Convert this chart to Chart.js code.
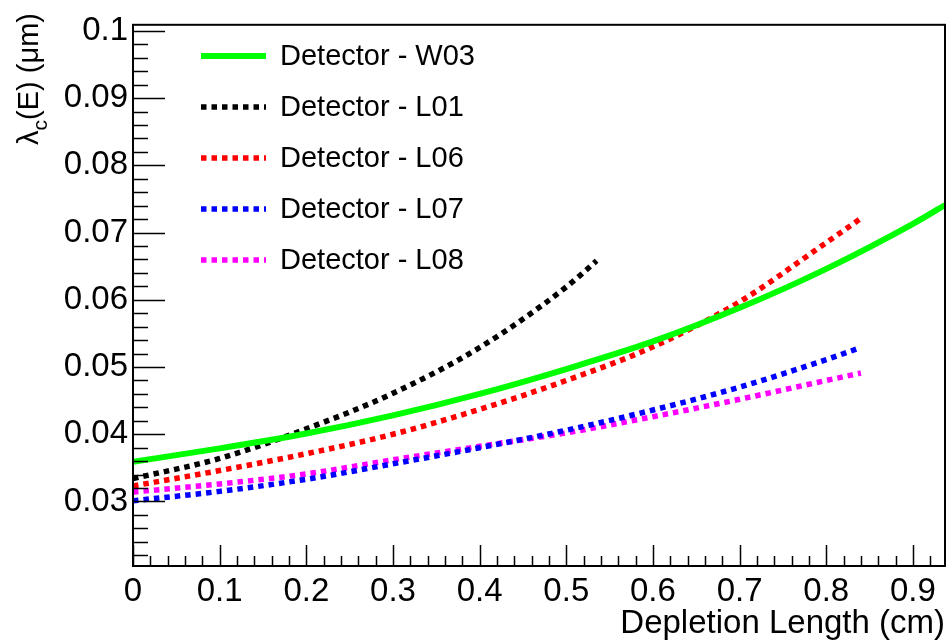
<!DOCTYPE html>
<html>
<head>
<meta charset="utf-8">
<script src="https://cdn.jsdelivr.net/npm/chart.js@4.4.0/dist/chart.umd.min.js"></script>
<style>
  html, body { margin: 0; padding: 0; background: #fff; }
  #wrap { width: 950px; height: 644px; }
</style>
</head>
<body>
<div id="wrap"><canvas id="lambdaChart" width="950" height="644"></canvas></div>
<script>
// depletion length (cm) sample points
const xW03 = [0, 0.1, 0.2, 0.3, 0.4, 0.5, 0.6, 0.7, 0.8, 0.9, 0.937];
const xL01 = [0, 0.1, 0.2, 0.3, 0.4, 0.5, 0.535];
const xL0x = [0, 0.1, 0.2, 0.3, 0.4, 0.5, 0.6, 0.7, 0.8, 0.84];

// lambda_c(E) in um
const W03 = [0.0359, 0.0379, 0.0401, 0.0428, 0.0460, 0.0497, 0.0538, 0.0588, 0.0646, 0.0713, 0.0741];
const L01 = [0.0334, 0.0364, 0.0408, 0.0461, 0.0529, 0.0619, 0.0658];
const L06 = [0.0323, 0.0346, 0.0371, 0.0400, 0.0437, 0.0480, 0.0530, 0.0597, 0.0685, 0.0721];
const L07 = [0.0301, 0.0315, 0.0333, 0.0356, 0.0380, 0.0406, 0.0436, 0.0470, 0.0511, 0.0529];
const L08 = [0.0314, 0.0326, 0.0341, 0.0362, 0.0382, 0.0402, 0.0426, 0.0452, 0.0480, 0.0491];

const seriesNames = ["Detector - W03", "Detector - L01", "Detector - L06", "Detector - L07", "Detector - L08"];
const xTickLabels = ["0", "0.1", "0.2", "0.3", "0.4", "0.5", "0.6", "0.7", "0.8", "0.9"];
const yTickLabels = ["0.03", "0.04", "0.05", "0.06", "0.07", "0.08", "0.09", "0.1"];

const FONT = "'Liberation Sans', Arial, Helvetica, sans-serif";

function toPoints(xs, ys) {
  return xs.map((x, i) => ({ x: x, y: ys[i] }));
}

function makeSet(label, xs, ys, color, dotted) {
  return {
    label: label,
    data: toPoints(xs, ys),
    borderColor: color,
    backgroundColor: color,
    borderWidth: dotted ? 5.5 : 6,
    borderDash: dotted ? [5.5, 5] : [],
    borderCapStyle: "butt",
    pointRadius: 0,
    fill: false,
    cubicInterpolationMode: "monotone",
  };
}

const datasets = [
  makeSet(seriesNames[0], xW03, W03, "#00ff00", false),
  makeSet(seriesNames[1], xL01, L01, "#000000", true),
  makeSet(seriesNames[2], xL0x, L06, "#ff0000", true),
  makeSet(seriesNames[3], xL0x, L07, "#0000ff", true),
  makeSet(seriesNames[4], xL0x, L08, "#ff00ff", true),
];

// ROOT-like frame, inward ticks, legend and y title
const rootFrame = {
  id: "rootFrame",
  afterDraw(chart) {
    const ctx = chart.ctx;
    const a = chart.chartArea;
    const xs = chart.scales.x;
    const ys = chart.scales.y;
    ctx.save();

    ctx.strokeStyle = "#000";
    ctx.lineWidth = 1.5;
    ctx.beginPath();
    for (let i = 0; i <= 50; i++) {
      const v = i * 0.02;
      if (v > xs.max + 1e-9) break;
      const px = Math.round(xs.getPixelForValue(v)) + 0.5;
      const len = i % 5 === 0 ? 21 : 10;
      ctx.moveTo(px, a.bottom);
      ctx.lineTo(px, a.bottom - len);
    }
    for (let i = 0; i <= 60; i++) {
      const v = i * 0.002;
      if (v < ys.min - 1e-9 || v > ys.max + 1e-9) continue;
      const py = Math.round(ys.getPixelForValue(v)) + 0.5;
      const len = i % 5 === 0 ? 32 : 15;
      ctx.moveTo(a.left, py);
      ctx.lineTo(a.left + len, py);
    }
    ctx.stroke();

    ctx.lineWidth = 2;
    ctx.strokeRect(a.left, a.top, a.right - a.left, a.bottom - a.top);

    // legend
    ctx.font = "29px " + FONT;
    ctx.textBaseline = "middle";
    ctx.textAlign = "left";
    chart.data.datasets.forEach((ds, i) => {
      const y = 56 + i * 51;
      ctx.beginPath();
      ctx.strokeStyle = ds.borderColor;
      ctx.lineWidth = ds.borderWidth;
      ctx.lineCap = "butt";
      ctx.setLineDash(ds.borderDash);
      ctx.moveTo(201, y);
      ctx.lineTo(266, y);
      ctx.stroke();
      ctx.setLineDash([]);
      ctx.fillStyle = "#000";
      ctx.fillText(ds.label, 280, y + 1);
    });

    // y axis title: lambda_c(E) (um)
    ctx.translate(38, 0);
    ctx.rotate(-Math.PI / 2);
    ctx.fillStyle = "#000";
    ctx.textBaseline = "alphabetic";
    ctx.textAlign = "left";
    const big = "29px " + FONT;
    const small = "21px " + FONT;
    ctx.font = big;
    const w1 = ctx.measureText("\u03bb").width;
    const w3 = ctx.measureText("(E) (\u03bcm)").width;
    ctx.font = small;
    const w2 = ctx.measureText("c").width;
    let u = -13 - (w1 + w2 + w3);
    ctx.font = big;
    ctx.fillText("\u03bb", u, 0);
    u += w1;
    ctx.font = small;
    ctx.fillText("c", u, 9);
    u += w2;
    ctx.font = big;
    ctx.fillText("(E) (\u03bcm)", u, 0);

    ctx.restore();
  },
};

const config = {
  type: "line",
  data: { datasets: datasets },
  options: {
    responsive: false,
    animation: false,
    layout: { padding: { top: 13, right: 5, left: 0, bottom: 0 } },
    plugins: {
      legend: { display: false },
      tooltip: { enabled: false },
    },
    scales: {
      x: {
        type: "linear",
        min: 0,
        max: 0.937,
        grid: { display: false, drawTicks: false },
        border: { display: false },
        ticks: {
          stepSize: 0.1,
          includeBounds: false,
          padding: 6,
          color: "#000",
          font: { family: FONT, size: 33 },
          maxRotation: 0,
          callback: (v) => xTickLabels[Math.round(v * 10)] ?? "",
        },
        title: {
          display: true,
          text: "Depletion Length (cm)",
          align: "end",
          color: "#000",
          font: { family: FONT, size: 33 },
          padding: { top: 0, bottom: 0 },
        },
        afterFit: (scale) => { scale.height = 78; },
      },
      y: {
        type: "linear",
        min: 0.0204,
        max: 0.1009,
        grid: { display: false, drawTicks: false },
        border: { display: false },
        ticks: {
          stepSize: 0.01,
          includeBounds: false,
          padding: 5,
          color: "#000",
          font: { family: FONT, size: 33 },
          callback: (v) => yTickLabels[Math.round(v * 100) - 3] ?? "",
        },
        afterFit: (scale) => { scale.width = 133; },
      },
    },
  },
  plugins: [rootFrame],
};

new Chart(document.getElementById("lambdaChart").getContext("2d"), config);
</script>
</body>
</html>
